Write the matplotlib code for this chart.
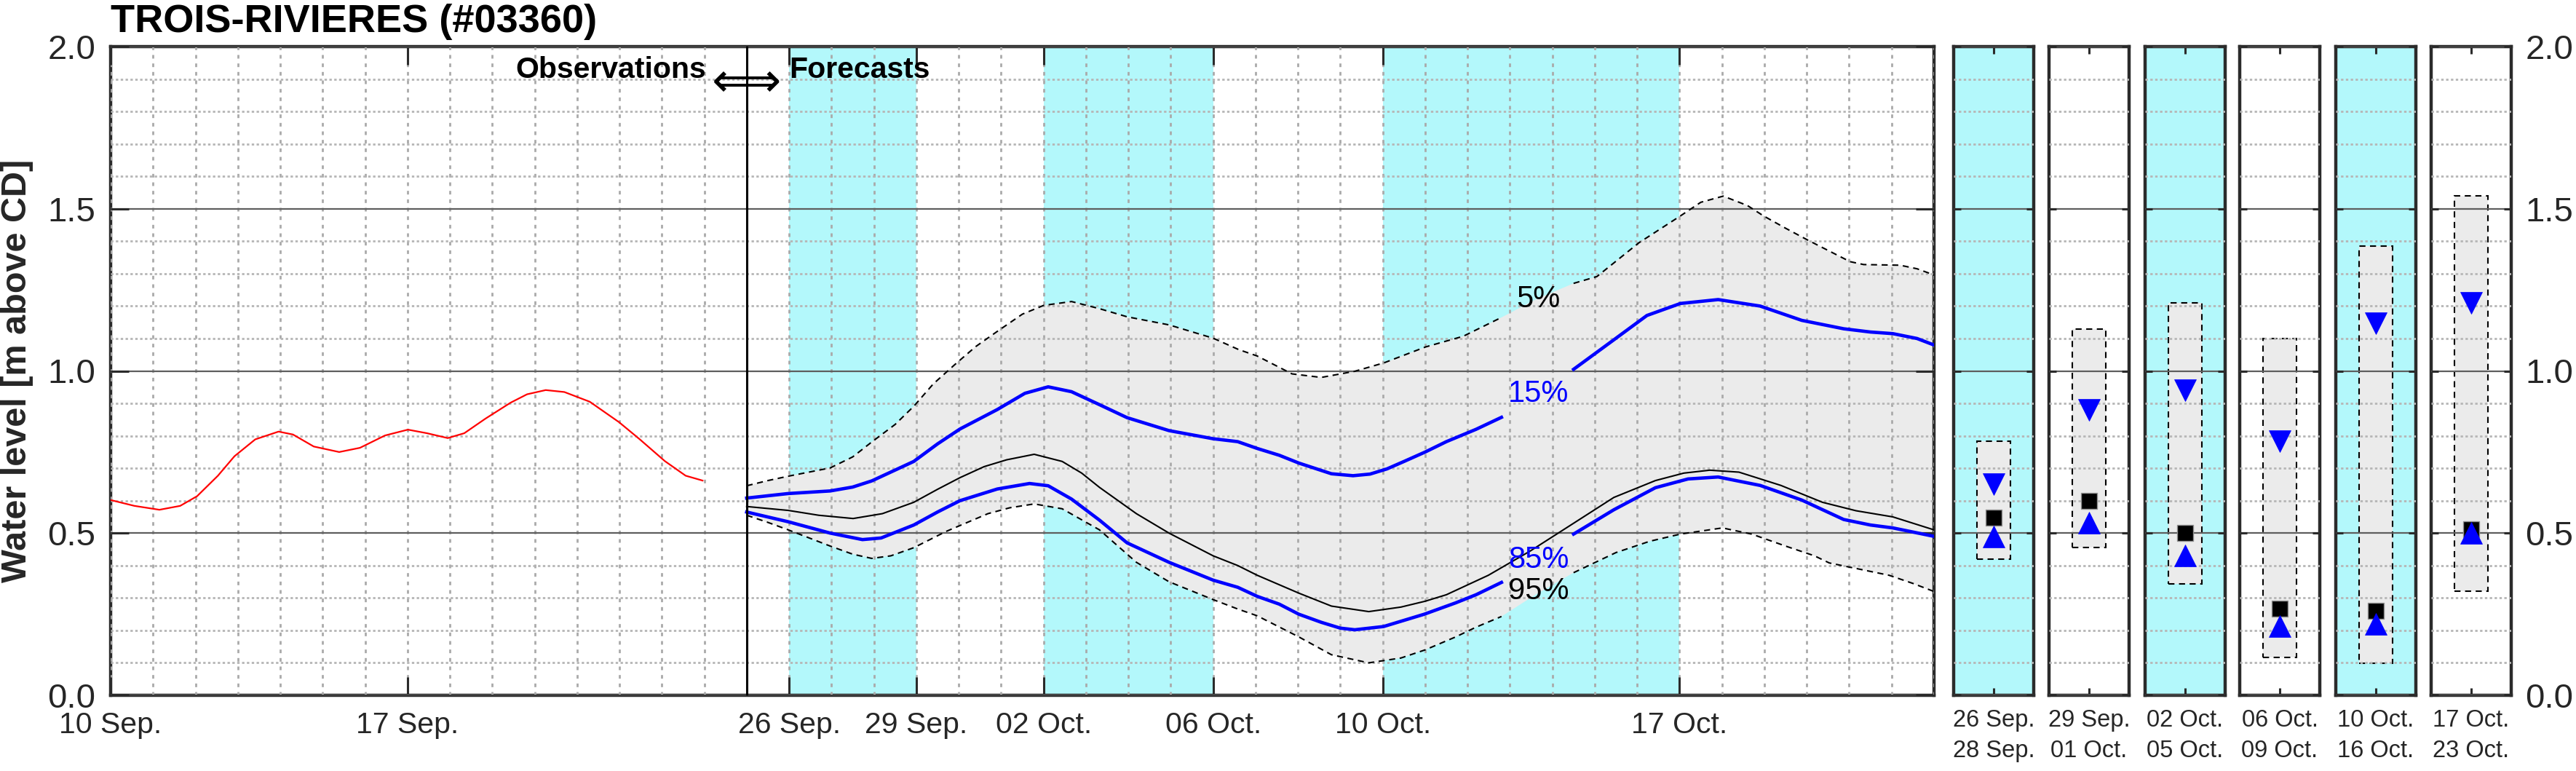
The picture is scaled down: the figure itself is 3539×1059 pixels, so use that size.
import numpy as np
import matplotlib
matplotlib.use('Agg')
import matplotlib.pyplot as plt
from matplotlib.ticker import MultipleLocator, FixedLocator, NullLocator

plt.rcParams['font.family'] = ['Liberation Sans', 'DejaVu Sans']

# all x values are days counted from 10 Sep. 00:00
obs_day = [0.0, 0.56, 1.15, 1.64, 2.04, 2.53, 2.92, 3.41, 3.96, 4.3, 4.79, 5.39, 5.88, 6.47,
           7.01, 7.46, 7.95, 8.34, 8.84, 9.43, 9.82, 10.26, 10.7, 11.3, 11.99, 12.48, 13.07,
           13.56, 13.96]
obs_level = [0.602, 0.584, 0.572, 0.584, 0.614, 0.677, 0.737, 0.789, 0.813, 0.804, 0.767,
             0.750, 0.763, 0.801, 0.819, 0.808, 0.793, 0.808, 0.853, 0.902, 0.928, 0.941,
             0.935, 0.905, 0.842, 0.789, 0.722, 0.677, 0.662]

day_p5 = [15.0, 15.5, 16.0, 16.97, 17.5, 17.95, 18.5, 18.94, 19.4, 19.92, 20.4, 20.91, 21.5,
          22.0, 22.66, 23.32, 23.97, 24.96, 26.0, 26.6, 27.04, 27.86, 28.55, 29.34, 30.03,
          31.01, 31.9, 32.8, 33.6, 34.5, 35.05, 36.04, 37.02, 37.5, 38.03, 38.6, 38.98, 39.5,
          40.03, 41.02, 41.34, 42.2, 42.6, 43.0]
p5 = [0.646, 0.662, 0.676, 0.701, 0.735, 0.781, 0.835, 0.891, 0.96, 1.021, 1.075, 1.122, 1.175,
      1.202, 1.214, 1.192, 1.167, 1.142, 1.101, 1.066, 1.046, 0.991, 0.980, 0.999, 1.025,
      1.074, 1.107, 1.165, 1.22, 1.27, 1.291, 1.395, 1.478, 1.52, 1.539, 1.51, 1.478, 1.44,
      1.403, 1.337, 1.328, 1.326, 1.315, 1.296]

day_p15 = [15.0, 15.98, 16.97, 17.5, 17.95, 18.94, 19.5, 20.03, 20.91, 21.56, 22.11, 22.66,
           23.32, 23.97, 24.96, 26.0, 26.58, 27.04, 27.56, 28.02, 28.79, 29.3, 29.7, 30.1,
           30.52, 31.0, 31.5, 32.2, 32.8, 33.6, 34.5, 35.45, 36.23, 37.02, 37.91, 38.9, 39.88,
           40.87, 41.5, 42.03, 42.6, 43.0]
p15 = [0.608, 0.622, 0.630, 0.642, 0.661, 0.721, 0.775, 0.821, 0.881, 0.931, 0.951, 0.936,
       0.896, 0.856, 0.816, 0.791, 0.782, 0.761, 0.740, 0.716, 0.683, 0.677, 0.682, 0.698,
       0.722, 0.750, 0.782, 0.82, 0.857, 0.93, 1.005, 1.096, 1.171, 1.208, 1.220, 1.200, 1.156,
       1.130, 1.12, 1.115, 1.10, 1.08]

day_med = [15.0, 15.98, 16.7, 17.51, 18.2, 18.94, 19.5, 20.03, 20.6, 21.13, 21.78, 22.44, 22.9,
           23.32, 24.19, 24.96, 26.0, 26.58, 27.04, 28.02, 28.79, 29.67, 30.43, 31.0, 31.5,
           32.49, 33.48, 34.46, 35.45, 36.43, 37.1, 37.71, 38.4, 39.39, 40.37, 41.16, 42.03, 43.0]
med = [0.582, 0.570, 0.555, 0.545, 0.560, 0.595, 0.635, 0.671, 0.705, 0.726, 0.743, 0.721, 0.685,
       0.641, 0.560, 0.500, 0.430, 0.400, 0.370, 0.315, 0.275, 0.258, 0.272, 0.29, 0.31,
       0.370, 0.445, 0.527, 0.610, 0.662, 0.685, 0.694, 0.688, 0.647, 0.595, 0.569, 0.550, 0.51]

day_p85 = [15.0, 15.98, 16.97, 17.73, 18.17, 18.94, 19.5, 20.03, 20.91, 21.67, 22.11, 22.66,
           23.32, 23.97, 24.96, 26.0, 26.58, 27.04, 27.56, 28.02, 28.55, 29.0, 29.34, 30.02,
           30.98, 31.72, 32.2, 32.8, 33.6, 34.5, 35.45, 36.43, 37.2, 37.91, 38.9, 39.88, 40.87,
           41.5, 42.03, 43.0]
p85 = [0.565, 0.535, 0.500, 0.480, 0.485, 0.525, 0.565, 0.600, 0.636, 0.653, 0.646, 0.605,
       0.540, 0.470, 0.410, 0.355, 0.333, 0.305, 0.281, 0.250, 0.225, 0.207, 0.202, 0.212,
       0.250, 0.285, 0.31, 0.348, 0.42, 0.497, 0.572, 0.640, 0.667, 0.673, 0.647, 0.602, 0.542,
       0.525, 0.516, 0.49]

day_p95 = [15.0, 15.5, 15.98, 16.97, 17.5, 17.95, 18.4, 18.94, 19.7, 20.69, 21.2, 21.78, 22.44,
           23.32, 24.19, 24.96, 26.0, 26.58, 27.04, 28.02, 28.79, 29.67, 30.43, 31.0, 31.72,
           32.2, 32.8, 33.6, 34.5, 35.5, 36.3, 37.02, 38.01, 38.7, 39.5, 40.18, 40.53, 41.2,
           41.94, 42.5, 43.0]
p95 = [0.555, 0.533, 0.510, 0.460, 0.435, 0.422, 0.430, 0.455, 0.505, 0.560, 0.578, 0.590, 0.575,
       0.510, 0.410, 0.350, 0.295, 0.266, 0.245, 0.180, 0.125, 0.100, 0.115, 0.140, 0.180,
       0.210, 0.243, 0.31, 0.378, 0.44, 0.475, 0.497, 0.516, 0.497, 0.46, 0.430, 0.408, 0.39,
       0.370, 0.345, 0.320]

# periods shaded in cyan (start day, end day)
cyan_start = [16, 22, 30]
cyan_end = [19, 26, 37]

tick_days = [0, 7, 16, 19, 22, 26, 30, 37]
tick_labels = ['10 Sep.', '17 Sep.', '26 Sep.', '29 Sep.', '02 Oct.', '06 Oct.', '10 Oct.', '17 Oct.']

# summary panels
panel_labels = ['26 Sep.\n28 Sep.', '29 Sep.\n01 Oct.', '02 Oct.\n05 Oct.',
                '06 Oct.\n09 Oct.', '10 Oct.\n16 Oct.', '17 Oct.\n23 Oct.']
panel_cyan = [True, False, True, False, True, False]
box_top = [0.784, 1.128, 1.209, 1.099, 1.386, 1.539]
box_bottom = [0.420, 0.455, 0.343, 0.117, 0.099, 0.320]
tri_down = [0.650, 0.881, 0.941, 0.783, 1.147, 1.209]
square = [0.547, 0.599, 0.500, 0.267, 0.260, 0.512]
tri_up = [0.490, 0.533, 0.430, 0.214, 0.221, 0.500]

CYAN = '#b3f8fb'
FILLG = '#ebebeb'
SPINE = '#2b2b2b'
TXT = '#262626'

W, H = 3539, 1059
fig = plt.figure(figsize=(W / 100, H / 100), dpi=100)


def px_axes(x0, y0, x1, y1):
    return fig.add_axes([x0 / W, 1 - y1 / H, (x1 - x0) / W, (y1 - y0) / H])


def style_common(ax):
    for s in ax.spines.values():
        s.set_color(SPINE)
        s.set_linewidth(3.2)
    ax.set_ylim(0, 2)
    ax.yaxis.set_minor_locator(MultipleLocator(0.1))
    ax.set_axisbelow(False)
    ax.yaxis.grid(True, which='major', color='#5e5e5e', lw=1.6, ls='-')
    ax.yaxis.grid(True, which='minor', color='#b6b6b6', lw=2.0, ls=(0, (1.2, 1.2)))


gap_lo, gap_hi = 32.85, 34.45


def gapped(d, v):
    d = np.asarray(d)
    v = np.asarray(v, dtype=float)
    return d, np.where((d > gap_lo) & (d < gap_hi), np.nan, v)


# ---- main time series panel
ax = px_axes(152, 64, 2657, 955)
style_common(ax)
ax.set_xlim(0, 43)
ax.xaxis.set_major_locator(FixedLocator(tick_days))
ax.set_xticklabels(tick_labels)
ax.xaxis.set_minor_locator(MultipleLocator(1))
ax.set_yticks([0, 0.5, 1.0, 1.5, 2.0])
ax.set_yticklabels(['0.0', '0.5', '1.0', '1.5', '2.0'])
ax.xaxis.grid(True, which='both', color='#aaaaaa', lw=2.0, ls=(0, (1.8, 2.4)))
ax.tick_params(which='major', direction='in', length=18, width=2.2, color=SPINE,
               top=True, right=True, labelcolor=TXT)
ax.tick_params(which='minor', length=0)
ax.tick_params(axis='x', labelsize=29.5, pad=16)
ax.tick_params(axis='y', labelsize=34, pad=15)

for a, b in zip(cyan_start, cyan_end):
    ax.axvspan(a, b, color=CYAN, lw=0, zorder=0.5)

ax.fill(np.r_[day_p5, day_p95[::-1]], np.r_[p5, p95[::-1]], color=FILLG, lw=0, zorder=1)

dash = (0, (4, 3))
ax.plot(*gapped(day_p5, p5), color='k', lw=1.5, ls=dash, zorder=4)
ax.plot(*gapped(day_p95, p95), color='k', lw=1.5, ls=dash, zorder=4)
ax.plot(day_med, med, color='k', lw=1.5, zorder=4)
ax.plot(*gapped(day_p15, p15), color='#0000ff', lw=3.3, zorder=4.5)
ax.plot(*gapped(day_p85, p85), color='#0000ff', lw=3.3, zorder=4.5)
ax.plot(obs_day, obs_level, color='#ff0000', lw=1.6, zorder=4)

ax.axvline(15, color='k', lw=2.2, zorder=5)

lab_x = 33.67
ax.text(lab_x, 1.222, '5%', color='k', fontsize=30, ha='center', va='center', zorder=6)
ax.text(lab_x, 0.930, '15%', color='#0000ff', fontsize=30, ha='center', va='center', zorder=6)
ax.text(lab_x, 0.418, '85%', color='#0000ff', fontsize=30, ha='center', va='center', zorder=6)
ax.text(lab_x, 0.322, '95%', color='k', fontsize=30, ha='center', va='center', zorder=6)

ax.text(14.05, 1.903, 'Observations', fontsize=29.5, fontweight='bold', ha='right',
        va='baseline', zorder=6)
ax.text(15.0, 1.888, '\u27fa', fontsize=48, ha='center', va='center',
        family=['DejaVu Sans'], zorder=6)
ax.text(16.0, 1.903, 'Forecasts', fontsize=29.5, fontweight='bold', ha='left',
        va='baseline', zorder=6)

fig.text(152 / W, 1 - 44 / H, 'TROIS-RIVIERES (#03360)', fontsize=39, fontweight='bold',
         ha='left', va='baseline')
fig.text(24 / W, 1 - 509 / H, 'Water level [m above CD]', fontsize=35, fontweight='bold',
         rotation=90, ha='center', va='center', color=TXT)

# ---- summary panels
panel_left = [2684, 2815, 2947, 3077, 3209, 3340]
for i, x0 in enumerate(panel_left):
    pa = px_axes(x0, 64, x0 + 110, 955)
    style_common(pa)
    pa.set_xlim(0, 1)
    if panel_cyan[i]:
        pa.set_facecolor(CYAN)
    pa.set_xticks([0.5])
    pa.set_xticklabels([panel_labels[i]], linespacing=1.45)
    pa.set_yticks([0, 0.5, 1.0, 1.5, 2.0])
    pa.xaxis.set_minor_locator(NullLocator())
    pa.tick_params(which='major', direction='in', length=7, width=2.2, color=SPINE,
                   top=True, right=True, left=True, labelcolor=TXT)
    pa.tick_params(which='minor', length=0)
    pa.tick_params(axis='x', labelsize=23.5, pad=14)
    if i == len(panel_left) - 1:
        pa.tick_params(axis='y', labelleft=False, labelright=True, labelsize=34, pad=14)
        pa.set_yticklabels(['0.0', '0.5', '1.0', '1.5', '2.0'])
    else:
        pa.tick_params(axis='y', labelleft=False)
    pa.bar(0.5, box_top[i] - box_bottom[i], bottom=box_bottom[i], width=0.41,
           color=FILLG, edgecolor='k', lw=1.5, ls=(0, (4, 3)), zorder=1)
    pa.plot(0.5, square[i], 's', ms=16, color='k', mec='#909090', mew=1, zorder=4)
    pa.plot(0.5, tri_down[i], 'v', ms=21, color='#0000ff', mec='#0000ff', mew=0.5, zorder=5)
    pa.plot(0.5, tri_up[i], '^', ms=21, color='#0000ff', mec='#0000ff', mew=0.5, zorder=5)

fig.savefig('out.png', dpi=100)
